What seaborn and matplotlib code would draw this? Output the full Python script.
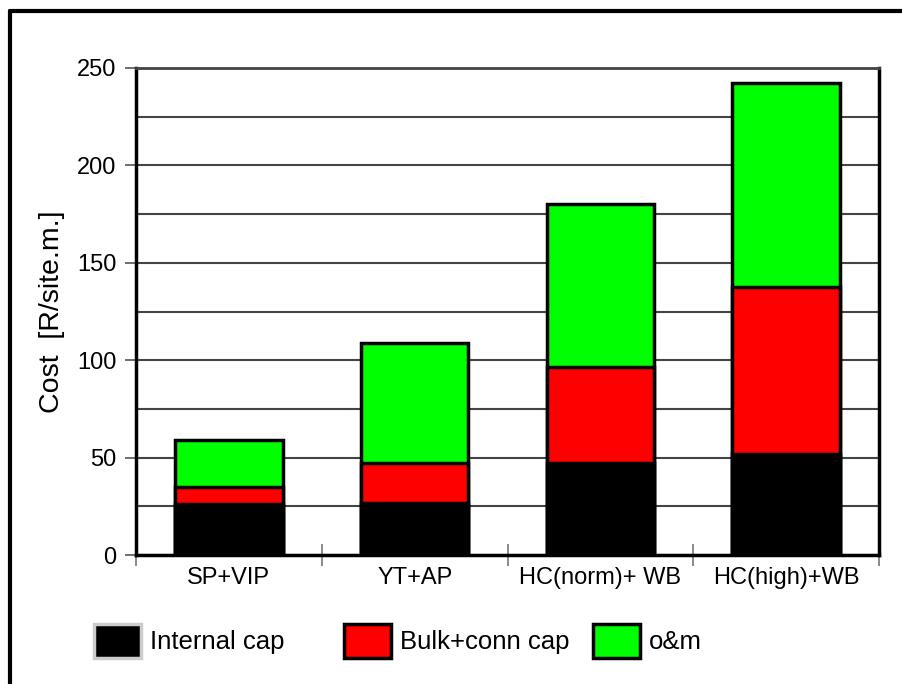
import matplotlib
matplotlib.use("Agg")
import matplotlib.pyplot as plt
from matplotlib.patches import Patch
from matplotlib.lines import Line2D
import seaborn as sns

# values, R/site.m.
sites = ["SP+VIP", "YT+AP", "HC(norm)+ WB", "HC(high)+WB"]
internal_cap = [26, 26.5, 47, 52]
bulk_conn_cap = [9, 20.5, 49.5, 85.5]
om = [24, 62, 83.5, 105]

series_names = ["Internal cap", "Bulk+conn cap", "o&m"]
series_colors = ["#000000", "#ff0000", "#00ff00"]

sns.set_style("white")
plt.rcParams["font.family"] = ["Liberation Sans", "DejaVu Sans"]
plt.rcParams["text.color"] = "black"
plt.rcParams["axes.labelcolor"] = "black"

fig = plt.figure(figsize=(9.02, 6.84), dpi=100)
ax = fig.add_axes([136 / 902, 129 / 684, 743 / 902, 487 / 684])

# stacked bars: draw cumulative totals from top layer down
lvl1 = internal_cap
lvl2 = [a + b for a, b in zip(internal_cap, bulk_conn_cap)]
lvl3 = [a + b for a, b in zip(lvl2, om)]
for heights, col in zip([lvl3, lvl2, lvl1], series_colors[::-1]):
    sns.barplot(x=sites, y=heights, color=col, width=0.58,
                edgecolor="black", linewidth=2.5, saturation=1, ax=ax)

ax.set_xlim(-0.5, 3.5)
ax.set_ylim(0, 250)
ax.set_yticks(range(0, 251, 50))
ax.set_yticks(range(0, 251, 25), minor=True)
ax.grid(True, axis="y", which="both", color="#444444", linewidth=1.5)
ax.set_axisbelow(True)
ax.tick_params(axis="y", which="major", left=True, direction="out",
               length=8, width=1.2, color="#555555", labelcolor="black",
               labelsize=17, pad=6)
ax.tick_params(axis="y", which="minor", left=False)

ax.set_xticks(range(4))
ax.set_xticklabels(sites)
ax.set_xticks([-0.5, 0.5, 1.5, 2.5, 3.5], minor=True)
ax.tick_params(axis="x", which="major", bottom=False, labelsize=17,
               labelcolor="black", pad=5)
ax.tick_params(axis="x", which="minor", bottom=True, direction="inout",
               length=16, width=1.2, color="#777777")

for side in ["left", "bottom", "right"]:
    ax.spines[side].set_color("black")
    ax.spines[side].set_linewidth(2.5)
ax.spines["top"].set_color("#444444")
ax.spines["top"].set_linewidth(2)

ax.set_xlabel("")
ax.set_ylabel("Cost  [R/site.m.]", fontsize=20.5, labelpad=9)

# legend entries sit at fixed places along the bottom
legend_x = [94, 344, 593]
for name, col, x0 in zip(series_names, series_colors, legend_x):
    edge = "#cccccc" if col == "#000000" else "black"
    fig.legend([Patch(facecolor=col, edgecolor=edge, linewidth=2.5)], [name],
               loc="center left", bbox_to_anchor=(x0 / 902, 1 - 641 / 684),
               frameon=False, fontsize=18.5, handlelength=1.82,
               handleheight=1.67, handletextpad=0.35,
               borderpad=0, borderaxespad=0)

# outer frame round the whole chart
fig.add_artist(Line2D([10 / 902, 10 / 902], [0, 1 - 11 / 684], color="black",
                      linewidth=3, transform=fig.transFigure))
fig.add_artist(Line2D([10 / 902, 1], [1 - 11 / 684, 1 - 11 / 684], color="black",
                      linewidth=3, transform=fig.transFigure))

fig.savefig("out.png", dpi=100)
